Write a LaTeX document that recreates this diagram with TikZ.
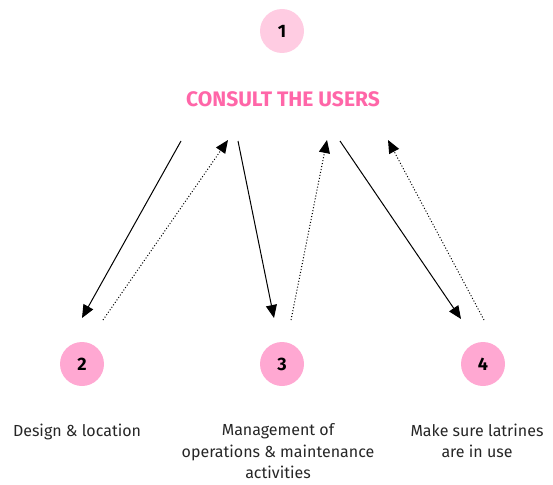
\documentclass[tikz,border=0pt]{standalone}
\usepackage{fontspec}
\setmainfont{Fira Sans}
\usetikzlibrary{arrows.meta}
\definecolor{pinklight}{HTML}{FFCCE2}
\definecolor{pinkmid}{HTML}{FFA8D2}
\definecolor{pinktitle}{HTML}{FF66A8}
\tikzset{
  num/.style={circle, minimum size=44pt, inner sep=0pt, font=\fontsize{18}{18}\selectfont\bfseries},
  lbl/.style={align=center, font=\fontsize{16}{21.5}\selectfont, text=black!85},
  fwd/.style={-{Triangle[length=13pt,width=11pt]}, line width=1pt},
  bwd/.style={-{Triangle[length=13pt,width=11pt]}, line width=1pt, dotted},
}
\begin{document}
\begin{tikzpicture}[x=1pt,y=-1pt]
\useasboundingbox (0,0) rectangle (553,484);
\node[num, fill=pinklight] (n1) at (282,31) {1};
\node[font=\fontsize{21}{21}\selectfont\bfseries, text=pinktitle] (title) at (283,99) {CONSULT THE USERS};
\node[num, fill=pinkmid] (n2) at (82,364) {2};
\node[num, fill=pinkmid] (n3) at (282,364) {3};
\node[num, fill=pinkmid] (n4) at (483,364) {4};
\node[lbl, anchor=north] (l2) at (77,420) {Design \& location};
\node[lbl, anchor=north] (l3) at (278,420) {Management of\\operations \& maintenance\\activities};
\node[lbl, anchor=north] (l4) at (477,420) {Make sure latrines\\are in use};
\coordinate (a1s) at (181,141); \coordinate (a1e) at (82,318);
\coordinate (b1s) at (103,320); \coordinate (b1e) at (228,140);
\coordinate (a2s) at (238,141); \coordinate (a2e) at (274,318);
\coordinate (b2s) at (291,320); \coordinate (b2e) at (327,140);
\coordinate (a3s) at (340,141); \coordinate (a3e) at (461,319);
\coordinate (b3s) at (484,320); \coordinate (b3e) at (388,140);
\draw[fwd] (a1s) -- (a1e);
\draw[bwd] (b1s) -- (b1e);
\draw[fwd] (a2s) -- (a2e);
\draw[bwd] (b2s) -- (b2e);
\draw[fwd] (a3s) -- (a3e);
\draw[bwd] (b3s) -- (b3e);
\end{tikzpicture}
\end{document}
